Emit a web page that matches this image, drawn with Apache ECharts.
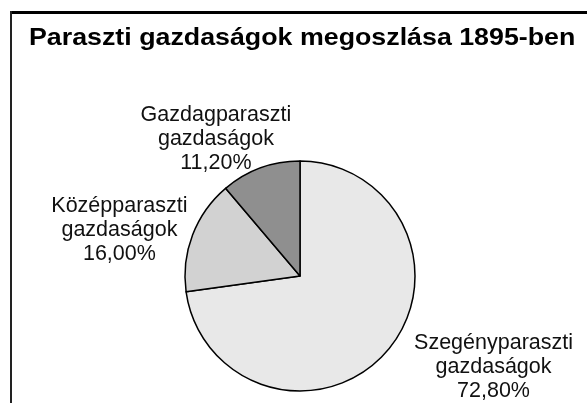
<!DOCTYPE html>
<html>
<head>
<meta charset="utf-8">
<script src="https://cdn.jsdelivr.net/npm/echarts@6/dist/echarts.min.js"></script>
<style>
html,body{margin:0;padding:0;background:#fff;}
#chart{width:587px;height:403px;}
</style>
</head>
<body>
<div id="chart"></div>
<script>
const titleText = 'Paraszti gazdaságok megoszlása 1895-ben';
const categories = ['Szegényparaszti gazdaságok', 'Középparaszti gazdaságok', 'Gazdagparaszti gazdaságok'];
const values = [72.8, 16.0, 11.2];
const sliceColors = ['#e8e8e8', '#d2d2d2', '#8f8f8f'];
const labelNudge = [[11, 6], [14, 0], [41, -15]];

const chart = echarts.init(document.getElementById('chart'), null, {renderer: 'canvas'});
const font = '"Liberation Sans", Arial, sans-serif';
chart.setOption({
  animation: false,
  backgroundColor: '#fff',
  graphic: [
    {type: 'line', shape: {x1: 10, y1: 12.5, x2: 600, y2: 12.5}, style: {stroke: '#000', lineWidth: 3}},
    {type: 'line', shape: {x1: 11, y1: 11, x2: 11, y2: 410}, style: {stroke: '#222', lineWidth: 2}},
    {type: 'text', x: 29, y: 26, scaleX: 1.116, originX: 0,
      style: {text: titleText, font: 'bold 24px "Liberation Sans", Arial, sans-serif', fill: '#000', verticalAlign: 'top', align: 'left'}}
  ],
  series: [{
    type: 'pie',
    center: [300, 276],
    radius: 115,
    startAngle: 90,
    clockwise: true,
    avoidLabelOverlap: false,
    data: categories.map((c, i) => ({name: c, value: values[i], itemStyle: {color: sliceColors[i]}})),
    itemStyle: {borderColor: '#000', borderWidth: 1.5},
    label: {
      show: true,
      position: 'outside',
      fontFamily: font, fontSize: 21.5, lineHeight: 24, color: '#111',
      formatter: p => p.name.replace(' ', '\n') + '\n' + p.value.toFixed(2).replace('.', ',') + '%'
    },
    labelLine: {show: false, length: 15, length2: 0},
    labelLayout: function (p) {
      const r = p.labelRect;
      const n = labelNudge[p.dataIndex];
      return {x: r.x + r.width / 2 + n[0], y: r.y + r.height / 2 + n[1], align: 'center', verticalAlign: 'middle'};
    },
    emphasis: {disabled: true}
  }]
});
</script>
</body>
</html>
